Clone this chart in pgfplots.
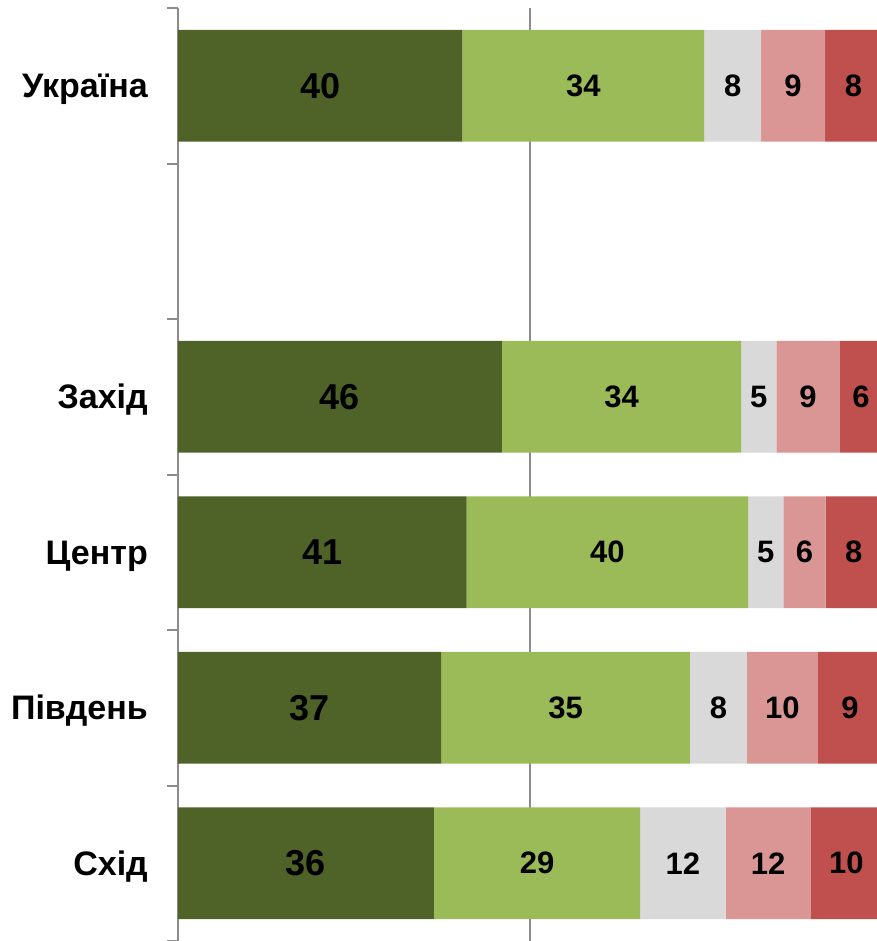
\documentclass[border=0pt]{standalone}
\usepackage{fontspec}
\setmainfont{Liberation Sans}
\usepackage{pgfplots}
\usepackage{pgfplotstable}
\pgfplotsset{compat=1.18}
\definecolor{c1}{HTML}{4F6228}
\definecolor{c2}{HTML}{9BBB59}
\definecolor{c3}{HTML}{D9D9D9}
\definecolor{c4}{HTML}{D99694}
\definecolor{c5}{HTML}{C0504D}
\definecolor{axgray}{HTML}{8C8C8C}
\pgfplotstableread{
y a b c d e
0 40 34 8 9 8
2 46 34 5 9 6
3 41 40 5 6 8
4 37 35 8 10 9
5 36 29 12 12 10
}\data
\pgfplotsset{seg/.style n args={3}{fill=#1, draw=none,
  point meta=explicit,
  nodes near coords={\pgfmathprintnumber[assume math mode=true]{\pgfplotspointmeta}},
  every node near coord/.append style={anchor=center, inner sep=0pt, text=black,
    font=\fontsize{#3}{#3}\selectfont\bfseries}}}
\newcommand{\pct}[1]{100*\thisrow{#1}/(\thisrow{a}+\thisrow{b}+\thisrow{c}+\thisrow{d}+\thisrow{e})}
\begin{document}
\begin{tikzpicture}
\begin{axis}[
  scale only axis, width=704pt, height=933pt,
  xbar stacked, bar width=0.72,
  xmin=0, xmax=100, ymin=-0.5, ymax=5.5, y dir=reverse,
  axis y line*=left, axis x line*=bottom,
  x axis line style={draw=none},
  y axis line style={axgray, line width=2pt},
  xtick={50}, xticklabels={}, xmajorgrids,
  major x grid style={axgray, line width=2pt},
  ytick={0,2,3,4,5},
  yticklabels={Україна,Захід,Центр,Південь,Схід},
  minor ytick={-0.5,0.5,1.5,2.5,3.5,4.5,5.5},
  tick align=outside, major tick length=0pt, minor tick length=11pt,
  minor tick style={axgray, line width=2pt},
  xtick style={draw=none},
  yticklabel style={anchor=base east, inner sep=0pt, xshift=-30pt, yshift=-12pt,
    font=\fontsize{34pt}{34pt}\selectfont\bfseries},
  clip=true,
]
\addplot[seg={c1}{a}{36pt}] table[x expr={\pct{a}}, y=y, meta=a] \data;
\addplot[seg={c2}{b}{31pt}] table[x expr={\pct{b}}, y=y, meta=b] \data;
\addplot[seg={c3}{c}{31pt}] table[x expr={\pct{c}}, y=y, meta=c] \data;
\addplot[seg={c4}{d}{31pt}] table[x expr={\pct{d}}, y=y, meta=d] \data;
\addplot[seg={c5}{e}{31pt}] table[x expr={\pct{e}}, y=y, meta=e] \data;
\end{axis}
\pgfresetboundingbox
\path ([xshift=-178pt]current axis.south west) rectangle ([xshift=-6pt,yshift=8pt]current axis.north east);
\end{tikzpicture}
\end{document}
